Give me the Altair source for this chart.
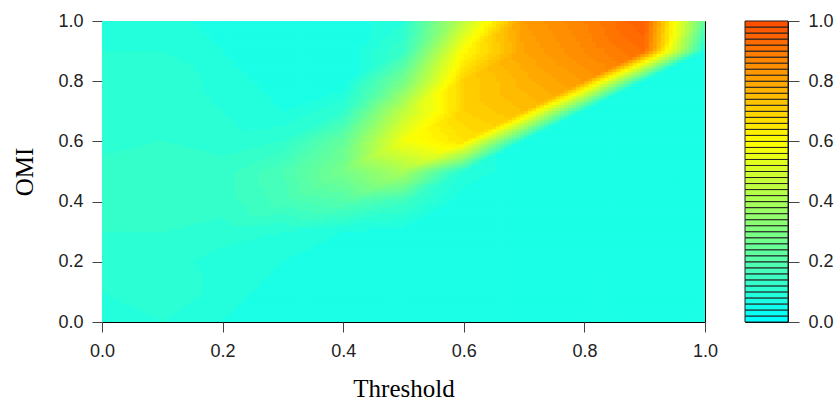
import json
import altair as alt
import pandas as pd

# Grid nodes
threshold = [0.0, 0.1, 0.2, 0.3, 0.4, 0.5, 0.6, 0.7, 0.8, 0.9, 1.0]
omi = [0.0, 0.1, 0.2, 0.3, 0.4, 0.5, 0.6, 0.7, 0.8, 0.9, 1.0]

# z values, one list per OMI row (columns follow `threshold`)
z_omi_00 = [0.08, 0.10, 0.08, 0.07, 0.06, 0.06, 0.06, 0.06, 0.06, 0.06, 0.06]
z_omi_01 = [0.10, 0.12, 0.09, 0.07, 0.06, 0.06, 0.06, 0.06, 0.06, 0.06, 0.06]
z_omi_02 = [0.10, 0.11, 0.09, 0.08, 0.07, 0.07, 0.07, 0.08, 0.08, 0.07, 0.08]
z_omi_03 = [0.12, 0.12, 0.11, 0.10, 0.08, 0.07, 0.06, 0.06, 0.06, 0.06, 0.06]
z_omi_04 = [0.13, 0.14, 0.13, 0.17, 0.20, 0.15, 0.06, 0.06, 0.06, 0.06, 0.06]
z_omi_05 = [0.13, 0.14, 0.13, 0.18, 0.28, 0.40, 0.10, 0.06, 0.06, 0.06, 0.06]
z_omi_06 = [0.11, 0.12, 0.11, 0.12, 0.24, 0.57, 0.66, 0.06, 0.06, 0.06, 0.06]
z_omi_07 = [0.10, 0.12, 0.10, 0.08, 0.12, 0.45, 0.70, 0.74, 0.06, 0.06, 0.06]
z_omi_08 = [0.10, 0.12, 0.09, 0.07, 0.06, 0.28, 0.70, 0.77, 0.82, 0.06, 0.06]
z_omi_09 = [0.10, 0.10, 0.08, 0.06, 0.06, 0.14, 0.60, 0.80, 0.86, 0.92, 0.07]
z_omi_10 = [0.10, 0.09, 0.07, 0.06, 0.06, 0.10, 0.45, 0.82, 0.88, 0.96, 0.22]

z_rows = [z_omi_00, z_omi_01, z_omi_02, z_omi_03, z_omi_04, z_omi_05,
          z_omi_06, z_omi_07, z_omi_08, z_omi_09, z_omi_10]

# Colour key levels (50 bands between 0 and 1)
key_levels = [i / 50 for i in range(51)]
tick_values = [0.0, 0.2, 0.4, 0.6, 0.8, 1.0]

palette_domain = [0.0, 0.6, 1.0]
palette_range = ["#00FFFF", "#FFFF00", "#FF5000"]

N = len(threshold)
Zs = json.dumps([v for row in z_rows for v in row])
NX, NY = 150, 100

color_scale = alt.Scale(domain=palette_domain, range=palette_range, interpolate="rgb")

label_font = "Liberation Sans"
title_font = "Liberation Serif"

tri = (
    "datum.ft >= datum.fo"
    " ? datum.z00 + datum.ft*(datum.z10-datum.z00) + datum.fo*(datum.z11-datum.z10)"
    " : datum.z00 + datum.fo*(datum.z01-datum.z00) + datum.ft*(datum.z11-datum.z01)"
)

main = (
    alt.Chart(alt.sequence(0, NX, as_="i"))
    .transform_calculate(js=f"sequence(0,{NY})")
    .transform_flatten(["js"], as_=["j"])
    .transform_calculate(
        x0=f"datum.i/{NX}",
        x1=f"min((datum.i+1)/{NX}+0.002, 1)",
        y0=f"datum.j/{NY}",
        y1=f"min((datum.j+1)/{NY}+0.003, 1)",
        tc=f"(datum.i+0.5)/{NX}*{N-1}",
        oc=f"(datum.j+0.5)/{NY}*{N-1}",
    )
    .transform_calculate(
        i0=f"min(floor(datum.tc), {N-2})",
        j0=f"min(floor(datum.oc), {N-2})",
    )
    .transform_calculate(
        ft="datum.tc-datum.i0",
        fo="datum.oc-datum.j0",
        z00=f"{Zs}[datum.j0*{N}+datum.i0]",
        z10=f"{Zs}[datum.j0*{N}+datum.i0+1]",
        z01=f"{Zs}[(datum.j0+1)*{N}+datum.i0]",
        z11=f"{Zs}[(datum.j0+1)*{N}+datum.i0+1]",
    )
    .transform_calculate(v=tri)
    .transform_calculate(lev="min(floor(datum.v*50), 49)/49")
    .mark_rect(strokeWidth=0, clip=True)
    .encode(
        x=alt.X("x0:Q", scale=alt.Scale(domain=[0, 1], nice=False, zero=False),
                axis=alt.Axis(values=tick_values, format=".1f", title="Threshold",
                              titlePadding=16, labelPadding=10)),
        x2="x1:Q",
        y=alt.Y("y0:Q", scale=alt.Scale(domain=[0, 1], nice=False, zero=False),
                axis=alt.Axis(values=tick_values, format=".1f", title="OMI",
                              titlePadding=20, labelPadding=9)),
        y2="y1:Q",
        color=alt.Color("lev:Q", scale=color_scale, legend=None),
    )
    .properties(width=603, height=301)
)

key_df = pd.DataFrame({"lo": key_levels[:-1], "hi": key_levels[1:]})
cbar = (
    alt.Chart(key_df)
    .transform_calculate(lev="round(datum.lo*50)/49")
    .mark_rect(stroke="#222222", strokeWidth=1)
    .encode(
        x=alt.value(0),
        x2=alt.value(43),
        y=alt.Y("lo:Q", scale=alt.Scale(domain=[0, 1], nice=False, zero=False),
                axis=alt.Axis(orient="right", values=tick_values, format=".1f",
                              title=None, labelPadding=9, tickSize=11)),
        y2="hi:Q",
        color=alt.Color("lev:Q", scale=color_scale, legend=None),
    )
    .properties(width=43, height=301)
)

chart = (
    alt.hconcat(main, cbar, spacing=25)
    .properties(padding={"left": 12, "top": 11, "right": 0, "bottom": 0}, background="white")
    .configure_view(stroke="black", strokeWidth=1)
    .configure_axis(
        grid=False, domain=False, tickSize=10, tickColor="#444444", tickWidth=1,
        labelFont=label_font, labelFontSize=18, labelColor="#222222",
        titleFont=title_font, titleFontSize=25, titleFontWeight="normal",
        titleColor="black", labelFlush=False, labelOverlap=False,
    )
)

chart.save("out.html", embed_options={"renderer": "svg", "actions": False})
